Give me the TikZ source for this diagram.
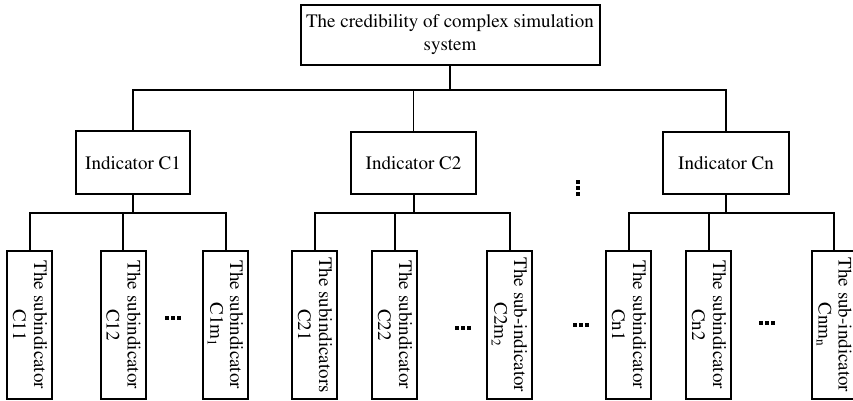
\documentclass[tikz,border=0pt]{standalone}
\usepackage[T1]{fontenc}
\usepackage{times}

\begin{document}
\begin{tikzpicture}[x=0.5pt,y=0.5pt,
  font=\fontsize{9.5}{11.5}\selectfont,
  box/.style={draw,line width=1pt,inner sep=2pt,align=center},
  leaf/.style={draw,line width=1pt,inner sep=0pt,
               minimum width=22.5pt,minimum height=74pt},
  leaftext/.style={inner sep=0pt,rotate=-90,draw,draw opacity=0},
  link/.style={line width=0.65pt},
  sublink/.style={line width=1pt}]
\useasboundingbox (0,0) rectangle (853,401);
\node[box,minimum width=149.5pt,minimum height=30pt](top) at (450,366)
  {The credibility of complex simulation\\system};
\node[box,minimum width=57pt,minimum height=31.5pt](c1) at (133,238) {Indicator C1};
\node[box,minimum width=62.5pt,minimum height=31pt](c2) at (413.5,238) {Indicator C2};
\node[box,minimum width=63pt,minimum height=31pt](cn) at (726,238) {Indicator Cn};
% subindicators, two lines read downwards
\foreach \n/\x/\a/\b in {
    l11/29.5/The subindicator/C11,
    l12/123/The subindicator/C12,
    l13/225.5/The subindicator/C1m\textsubscript{1},
    l21/314.5/The subindicators/C21,
    l22/394.5/The subindicator/C22,
    l23/509.5/The sub-indicator/C2m\textsubscript{2},
    ln1/628.5/The subindicator/Cn1,
    ln2/708.5/The subindicator/Cn2,
    ln3/834/The sub-indicator/Cnm\textsubscript{n}}{
  \node[leaf](\n) at (\x,76) {};
  \node[leaftext](\n a) at ([xshift=5.5pt]\n.center) {\a};
  \node[leaftext](\n b) at ([xshift=-5pt]\n.center) {\b};
}
% bus lines
\coordinate (bus) at (450,311);
\coordinate (sub) at (0,188);
\draw[link] (top.south) -- (bus);
\draw[link] (c1.north) |- (bus) -| (cn.north);
\draw[link] (c2.north) -- (c2.north |- bus);
\foreach \g in {1,2,n}{
  \draw[sublink] (c\g.south) -- (c\g.south |- sub) coordinate (b\g);
  \draw[sublink] (l\g1.north) |- (b\g) -| (l\g3.north);
  \draw[sublink] (l\g2.north) -- (l\g2.north |- b\g);
}
% ellipsis marks
\foreach \x/\y in {173/83,463/73,581/76,767/78}
  \foreach \k in {-6,0,6}
    \fill (\x+\k-2,\y-2) rectangle ++(4,4);
\foreach \k in {-6,0,6}
  \fill (576,213+\k-2) rectangle ++(4,4);
\end{tikzpicture}
\end{document}
